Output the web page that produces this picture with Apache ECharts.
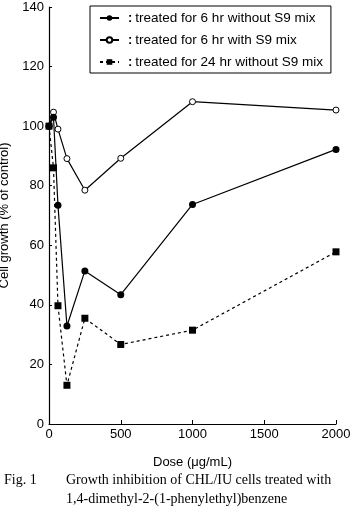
<!DOCTYPE html>
<html>
<head>
<meta charset="utf-8">
<script src="https://cdn.jsdelivr.net/npm/echarts@6/dist/echarts.min.js"></script>
<style>
  html, body { margin: 0; padding: 0; background: #fff; }
  #chart { width: 352px; height: 509px; }
</style>
</head>
<body>
<div id="chart"></div>
<script>
// 用量 (μg/mL)
const doses = [0, 31.25, 62.5, 125, 250, 500, 1000, 2000]
// 6 hr, -S9
const noS9_6h = [100, 103, 73.4, 32.9, 51.4, 43.4, 73.7, 92.2]
// 6 hr, +S9
const withS9_6h = [100, 104.7, 99, 89.1, 78.5, 89.2, 108.2, 105.4]
// 24 hr, -S9
const noS9_24h = [100, 86, 39.7, 13, 35.5, 26.7, 31.5, 57.8]
const seriesNames = [
  'treated for 6 hr without S9 mix',
  'treated for 6 hr with S9 mix',
  'treated for 24 hr without S9 mix',
]
const xTicks = [0, 500, 1000, 1500, 2000]
const yTicks = [0, 20, 40, 60, 80, 100, 120, 140]

const pairs = arr => doses.map((d, i) => [d, arr[i]])
const font = 'Arial, "Liberation Sans", sans-serif'
const serif = '"Liberation Serif", "DejaVu Serif", serif'

const chart = echarts.init(document.getElementById('chart'))
chart.setOption({
  animation: false,
  backgroundColor: '#fff',
  grid: { left: 49, right: 16, top: 7, bottom: 85, containLabel: false, outerBoundsMode: 'none' },
  legend: {
    left: 90,
    top: 6,
    orient: 'vertical',
    borderColor: '#000',
    borderWidth: 1,
    padding: [5, 8, 4, 9],
    itemWidth: 19,
    itemHeight: 7,
    itemGap: 8,
    textStyle: {
      fontFamily: font,
      fontSize: 13.5,
      color: '#000',
      rich: {
        c: { fontFamily: font, fontSize: 13, fontWeight: 'bold', color: '#000', padding: [0, 3, 0, 4] },
      },
    },
    formatter: name => '{c|:}' + name,
    data: seriesNames,
  },
  xAxis: {
    type: 'value',
    min: 0,
    max: 2000,
    interval: 500,
    name: 'Dose (μg/mL)',
    nameLocation: 'middle',
    nameGap: 32,
    nameTextStyle: { fontFamily: font, fontSize: 13, color: '#000' },
    axisLine: { lineStyle: { color: '#000', width: 1.2 } },
    axisTick: { inside: true, length: 4, lineStyle: { color: '#000' } },
    axisLabel: { fontFamily: font, fontSize: 13, color: '#000', margin: 4, formatter: v => xTicks.includes(v) ? String(v) : '' },
    splitLine: { show: false },
  },
  yAxis: {
    type: 'value',
    min: 0,
    max: 140,
    interval: 20,
    name: 'Cell growth (% of control)',
    nameLocation: 'middle',
    nameGap: 33,
    nameTextStyle: { fontFamily: font, fontSize: 13, color: '#000' },
    axisLine: { show: true, lineStyle: { color: '#000', width: 1.2 } },
    axisTick: { show: true, inside: true, length: 3, lineStyle: { color: '#000' } },
    axisLabel: { fontFamily: font, fontSize: 13, color: '#000', margin: 5, formatter: v => yTicks.includes(v) ? String(v) : '' },
    splitLine: { show: false },
  },
  series: [
    {
      name: seriesNames[0],
      type: 'line',
      data: pairs(noS9_6h),
      symbol: 'circle',
      symbolSize: 7,
      itemStyle: { color: '#000' },
      lineStyle: { color: '#000', width: 1.2 },
      z: 3,
    },
    {
      name: seriesNames[1],
      type: 'line',
      data: pairs(withS9_6h),
      symbol: 'circle',
      symbolSize: 6,
      itemStyle: { color: '#fff', borderColor: '#000', borderWidth: 1 },
      lineStyle: { color: '#000', width: 1.2 },
      z: 2,
    },
    {
      name: seriesNames[2],
      type: 'line',
      data: pairs(noS9_24h),
      symbol: 'rect',
      symbolSize: 7,
      itemStyle: { color: '#000' },
      lineStyle: { color: '#000', width: 1.2, type: [3, 3] },
      z: 4,
    },
  ],
  graphic: [
    {
      type: 'text',
      left: 4,
      top: 473,
      style: { text: 'Fig. 1', font: '14px ' + serif, fill: '#000' },
    },
    {
      type: 'text',
      left: 66,
      top: 473,
      style: { text: 'Growth inhibition of CHL/IU cells treated with', font: '14px ' + serif, fill: '#000' },
    },
    {
      type: 'text',
      left: 66,
      top: 492,
      style: { text: '1,4-dimethyl-2-(1-phenylethyl)benzene', font: '14px ' + serif, fill: '#000' },
    },
  ],
})
</script>
</body>
</html>
